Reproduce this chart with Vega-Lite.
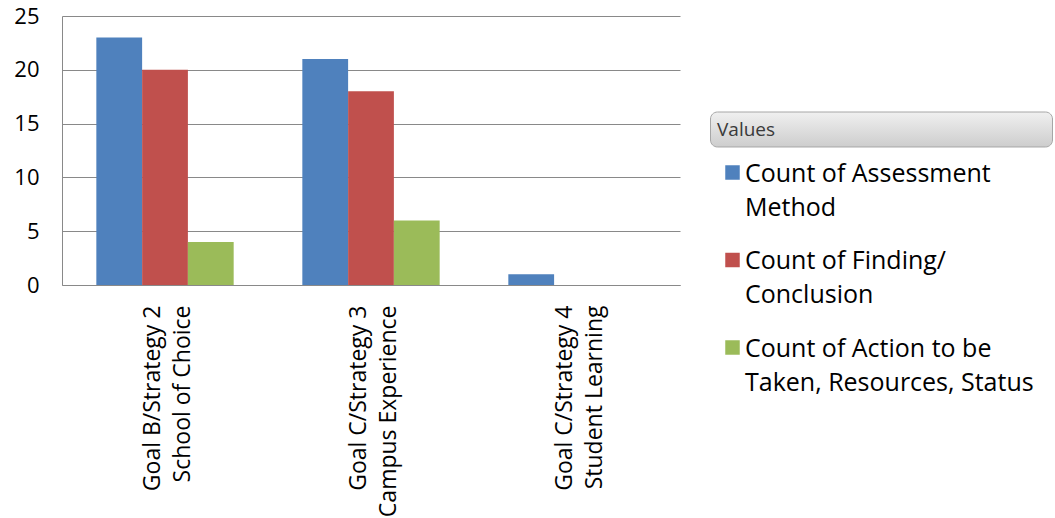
{
  "$schema": "https://vega.github.io/schema/vega-lite/v6.json",
  "width": 618,
  "height": 269,
  "autosize": "none",
  "padding": {"left": 62, "top": 16, "right": 375, "bottom": 233},
  "background": "white",
  "config": {"view": {"stroke": null}, "font": "Open Sans"},
  "data": {
    "values": [
      {"goal": "Goal B/Strategy 2 School of Choice", "series": "Count of Assessment Method", "count": 23},
      {"goal": "Goal B/Strategy 2 School of Choice", "series": "Count of Finding/Conclusion", "count": 20},
      {"goal": "Goal B/Strategy 2 School of Choice", "series": "Count of Action to be Taken, Resources, Status", "count": 4},
      {"goal": "Goal C/Strategy 3 Campus Experience", "series": "Count of Assessment Method", "count": 21},
      {"goal": "Goal C/Strategy 3 Campus Experience", "series": "Count of Finding/Conclusion", "count": 18},
      {"goal": "Goal C/Strategy 3 Campus Experience", "series": "Count of Action to be Taken, Resources, Status", "count": 6},
      {"goal": "Goal C/Strategy 4 Student Learning", "series": "Count of Assessment Method", "count": 1}
    ]
  },
  "mark": {"type": "bar"},
  "encoding": {
    "x": {
      "field": "goal",
      "type": "nominal",
      "sort": null,
      "title": null,
      "scale": {"paddingInner": 0.3333, "paddingOuter": 0.1667},
      "axis": {
        "labelAngle": 270,
        "labelExpr": "[slice(datum.label, 0, 17), slice(datum.label, 18)]",
        "labelFontSize": 23,
        "labelLineHeight": 30,
        "labelColor": "#000000",
        "labelPadding": 20,
        "labelOffset": -12,
        "labelLimit": 300,
        "ticks": false,
        "domainColor": "#898989",
        "grid": false
      }
    },
    "xOffset": {
      "field": "series",
      "sort": ["Count of Assessment Method", "Count of Finding/Conclusion", "Count of Action to be Taken, Resources, Status"],
      "scale": {"paddingInner": 0, "paddingOuter": 0}
    },
    "y": {
      "field": "count",
      "type": "quantitative",
      "title": null,
      "scale": {"domain": [0, 25], "nice": false},
      "axis": {
        "values": [0, 5, 10, 15, 20, 25],
        "labelFontSize": 22,
        "labelColor": "#000000",
        "labelPadding": 23,
        "ticks": false,
        "domainColor": "#898989",
        "gridColor": "#898989",
        "gridOpacity": 1
      }
    },
    "opacity": {
      "datum": "Values",
      "type": "ordinal",
      "scale": {"range": [1]},
      "legend": {
        "title": null,
        "orient": "none",
        "legendX": 648,
        "legendY": -58,
        "padding": 0,
        "symbolType": "M-0.959,-0.1023H0.959A0.041,0.041 0 0 1 1,-0.0614V0.0614A0.041,0.041 0 0 1 0.959,0.1023H-0.959A0.041,0.041 0 0 1 -1,0.0614V-0.0614A0.041,0.041 0 0 1 -0.959,-0.1023Z",
        "symbolSize": 116964,
        "symbolOffset": 0,
        "symbolFillColor": "#dadada",
        "symbolStrokeColor": "#a6a6a6",
        "symbolStrokeWidth": 1,
        "labelFontSize": 19,
        "labelColor": "#3a3a3a",
        "labelOffset": -336,
        "labelBaseline": "middle",
        "encode": {
          "symbols": {
            "update": {
              "fill": {"value": {"gradient": "linear", "x1": 0, "y1": 0, "x2": 0, "y2": 1, "stops": [{"offset": 0, "color": "#f0f0f0"}, {"offset": 1, "color": "#cdcdcd"}]}},
              "stroke": {"value": "#a6a6a6"},
              "strokeWidth": {"value": 1},
              "opacity": {"value": 1}
            }
          }
        }
      }
    },
    "color": {
      "field": "series",
      "type": "nominal",
      "sort": ["Count of Assessment Method", "Count of Finding/Conclusion", "Count of Action to be Taken, Resources, Status"],
      "scale": {
        "domain": ["Count of Assessment Method", "Count of Finding/Conclusion", "Count of Action to be Taken, Resources, Status"],
        "range": ["#4F81BD", "#C0504D", "#9BBB59"]
      },
      "legend": {
        "title": null,
        "orient": "none",
        "legendX": 650,
        "legendY": 144,
        "symbolOffset": 8,
        "symbolType": "square",
        "symbolSize": 210,
        "symbolStrokeWidth": 0,
        "labelFontSize": 25,
        "labelBaseline": "alphabetic",
        "labelColor": "#000000",
        "labelOffset": 0,
        "labelLimit": 400,
        "rowPadding": 26.5,
        "labelExpr": "datum.label == 'Count of Assessment Method' ? ['Count of Assessment', 'Method'] : datum.label == 'Count of Finding/Conclusion' ? ['Count of Finding/', 'Conclusion'] : ['Count of Action to be', 'Taken, Resources, Status']",
        "encode": {"labels": {"update": {"dy": {"value": 9}, "lineHeight": {"value": 34}}}}
      }
    }
  }
}
